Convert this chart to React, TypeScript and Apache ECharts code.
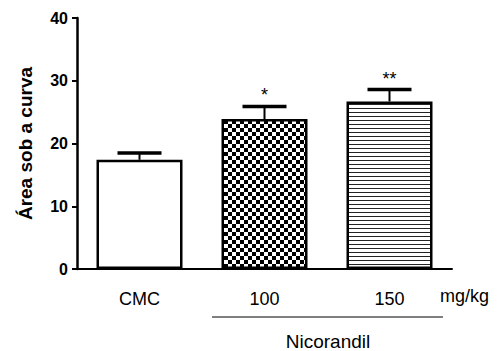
import React, { useEffect, useRef } from "react";
import * as echarts from "echarts";

const categories = ["CMC", "100", "150"];
const means = [17.4, 23.9, 26.7];
const sems = [1.1, 2.0, 1.9];
const significance = ["", "*", "**"];
const yTicks = { min: 0, max: 40, interval: 10 };

const FONT = 'Arial, "Liberation Sans", Helvetica, sans-serif';

function makeChecker(): string {
  const c = document.createElement("canvas");
  c.width = 8;
  c.height = 8;
  const ctx = c.getContext("2d")!;
  ctx.fillStyle = "#fff";
  ctx.fillRect(0, 0, 8, 8);
  ctx.fillStyle = "#000";
  ctx.fillRect(0, 0, 4, 4);
  ctx.fillRect(4, 4, 4, 4);
  return c.toDataURL();
}

function makeStripes(): string {
  const c = document.createElement("canvas");
  c.width = 8;
  c.height = 4;
  const ctx = c.getContext("2d")!;
  ctx.fillStyle = "#fff";
  ctx.fillRect(0, 0, 8, 4);
  ctx.fillStyle = "#222";
  ctx.fillRect(0, 0, 8, 1);
  return c.toDataURL();
}

export default function App() {
  const ref = useRef<HTMLDivElement>(null);
  useEffect(() => {
    if (!ref.current) return;
    const chart = echarts.init(ref.current, null, { renderer: "svg" });
    const checker = { image: makeChecker(), repeat: "repeat", imageWidth: 8, imageHeight: 8 };
    const stripes = { image: makeStripes(), repeat: "repeat", imageWidth: 8, imageHeight: 4 };
    const fills: any[] = ["#fff", checker, stripes];

    chart.setOption({
      animation: false,
      grid: { left: 77, right: 51, top: 18, bottom: 82 },
      xAxis: {
        type: "category",
        data: categories,
        axisLine: { lineStyle: { color: "#000", width: 2 } },
        axisTick: { alignWithLabel: true, length: 6, lineStyle: { color: "#000", width: 1.5 } },
        axisLabel: { color: "#000", fontSize: 18, fontFamily: FONT, margin: 21 },
      },
      yAxis: {
        type: "value",
        min: yTicks.min,
        max: yTicks.max,
        interval: yTicks.interval,
        name: "Área sob a curva",
        nameLocation: "middle",
        nameGap: 42,
        nameTextStyle: { color: "#000", fontSize: 19, fontWeight: "bold", fontFamily: FONT },
        splitLine: { show: false },
        axisLine: { show: true, lineStyle: { color: "#000", width: 2.5 } },
        axisTick: { show: true, length: 5, lineStyle: { color: "#000", width: 2 } },
        axisLabel: { color: "#000", fontSize: 16, fontWeight: "bold", fontFamily: FONT, margin: 9 },
      },
      series: [
        {
          type: "bar",
          barWidth: 86,
          data: means.map((v, i) => ({
            value: v,
            itemStyle: { color: fills[i], borderColor: "#000", borderWidth: 2.5 },
          })),
          z: 2,
        },
        {
          type: "custom",
          z: 3,
          data: means.map((v, i) => [i, v, v + sems[i]]),
          renderItem: (params: any, api: any) => {
            const x = api.coord([api.value(0), 0])[0];
            const yTop = api.coord([api.value(0), api.value(1)])[1];
            const yErr = api.coord([api.value(0), api.value(2)])[1];
            const star = significance[params.dataIndex];
            const children: any[] = [
              { type: "line", shape: { x1: x, y1: yTop, x2: x, y2: yErr }, style: { stroke: "#000", lineWidth: 2 } },
              { type: "line", shape: { x1: x - 22, y1: yErr, x2: x + 22, y2: yErr }, style: { stroke: "#000", lineWidth: 3.5 } },
            ];
            if (star) {
              children.push({
                type: "text",
                style: {
                  text: star,
                  x: x,
                  y: yErr - 11,
                  align: "center",
                  verticalAlign: "middle",
                  fill: "#000",
                  font: `18px ${FONT}`,
                },
              });
            }
            return { type: "group", children };
          },
        },
      ],
      graphic: [
        {
          type: "text",
          x: 440,
          y: 296,
          style: { text: "mg/kg", fill: "#000", font: `18px ${FONT}`, verticalAlign: "middle" },
        },
        {
          type: "line",
          shape: { x1: 212, y1: 317, x2: 443, y2: 317 },
          style: { stroke: "#000", lineWidth: 1 },
        },
        {
          type: "text",
          x: 328,
          y: 341,
          style: { text: "Nicorandil", fill: "#000", font: `19px ${FONT}`, align: "center", verticalAlign: "middle" },
        },
      ],
    });
    return () => chart.dispose();
  }, []);
  return <div ref={ref} style={{ width: 503, height: 351, position: "absolute", left: 0, top: 0 }} />;
}
